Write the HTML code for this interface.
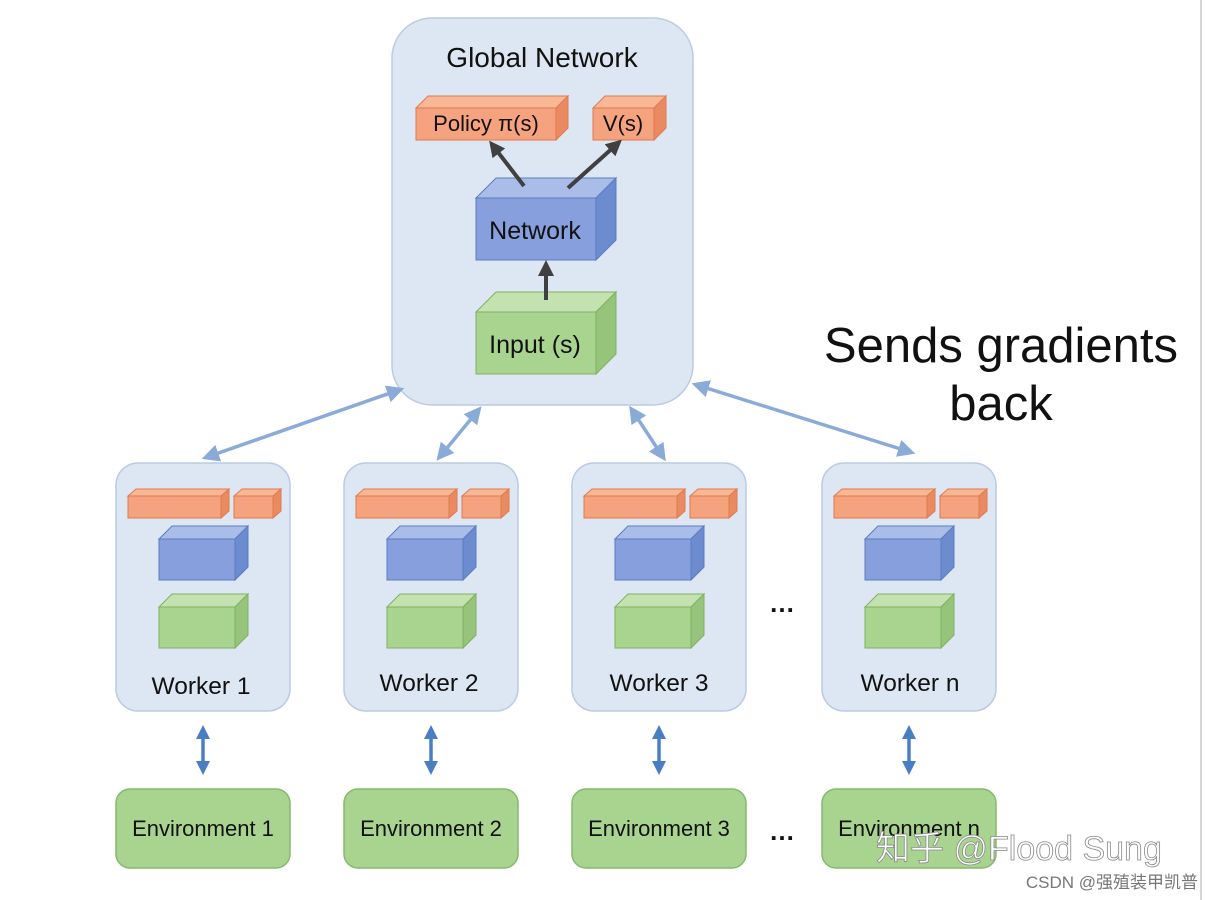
<!DOCTYPE html>
<html><head><meta charset="utf-8"><style>body{margin:0;background:#fff}svg{display:block}</style></head><body>
<svg width="1214" height="900" viewBox="0 0 1214 900" xmlns="http://www.w3.org/2000/svg" font-family="Liberation Sans, sans-serif">
<defs>
<marker id="ab" viewBox="0 0 10 10" refX="5" refY="5" markerWidth="5" markerHeight="5" orient="auto-start-reverse"><path d="M0,0L10,5L0,10z" fill="#8aaad8"/></marker>
<marker id="ad" viewBox="0 0 10 10" refX="5" refY="5" markerWidth="4" markerHeight="4" orient="auto-start-reverse"><path d="M0,0L10,5L0,10z" fill="#4a7ec4"/></marker>
<marker id="ak" viewBox="0 0 10 10" refX="5" refY="5" markerWidth="4" markerHeight="4" orient="auto"><path d="M0,0L10,5L0,10z" fill="#404040"/></marker>
</defs>
<line x1="1201" y1="0" x2="1201" y2="900" stroke="#c8c8c8" stroke-width="1.5"/>
<rect x="392" y="18" width="301" height="387" rx="40" fill="#dde7f3" stroke="#bccbe2" stroke-width="1.5"/>
<text x="542" y="67" font-size="28" text-anchor="middle" fill="#111">Global Network</text>
<path d="M416,108 L428,96 L568,96 L556,108 Z" fill="#f8b896" stroke="#e07a50"/>
<path d="M556,108 L568,96 L568,128 L556,140 Z" fill="#e98a60" stroke="#e07a50"/>
<rect x="416" y="108" width="140" height="32" fill="#f5a27f" stroke="#e07a50"/>
<text x="486" y="131" font-size="22" text-anchor="middle" fill="#111">Policy π(s)</text>
<path d="M593,108 L605,96 L666,96 L654,108 Z" fill="#f8b896" stroke="#e07a50"/>
<path d="M654,108 L666,96 L666,128 L654,140 Z" fill="#e98a60" stroke="#e07a50"/>
<rect x="593" y="108" width="61" height="32" fill="#f5a27f" stroke="#e07a50"/>
<text x="623" y="131" font-size="22" text-anchor="middle" fill="#111">V(s)</text>
<path d="M476,198 L496,178 L616,178 L596,198 Z" fill="#a9bde8" stroke="#5a7cc0"/>
<path d="M596,198 L616,178 L616,240 L596,260 Z" fill="#6d8cd0" stroke="#5a7cc0"/>
<rect x="476" y="198" width="120" height="62" fill="#879fdd" stroke="#5a7cc0"/>
<text x="535" y="239" font-size="25" text-anchor="middle" fill="#111">Network</text>
<path d="M476,312 L496,292 L616,292 L596,312 Z" fill="#c4e2b0" stroke="#7fb060"/>
<path d="M596,312 L616,292 L616,354 L596,374 Z" fill="#96c47a" stroke="#7fb060"/>
<rect x="476" y="312" width="120" height="62" fill="#a9d490" stroke="#7fb060"/>
<text x="535" y="353" font-size="25" text-anchor="middle" fill="#111">Input (s)</text>
<g stroke="#404040" stroke-width="4">
<line x1="524" y1="186" x2="494" y2="147" marker-end="url(#ak)"/>
<line x1="568" y1="188" x2="616" y2="145" marker-end="url(#ak)"/>
<line x1="546" y1="300" x2="546" y2="268" marker-end="url(#ak)"/>
</g>
<g stroke="#8aaad8" stroke-width="3.5" marker-start="url(#ab)" marker-end="url(#ab)">
<line x1="396" y1="391" x2="210" y2="456"/>
<line x1="476" y1="413" x2="442" y2="454"/>
<line x1="634" y1="413" x2="661" y2="454"/>
<line x1="700" y1="386" x2="907" y2="451"/>
</g>
<text x="1001" y="362" font-size="49" text-anchor="middle" fill="#111">Sends gradients</text>
<text x="1001" y="420" font-size="49" text-anchor="middle" fill="#111">back</text>
<g id="w">
<rect x="116" y="463" width="174" height="248" rx="22" fill="#dde7f3" stroke="#bccbe2" stroke-width="1.5"/>
<path d="M128,496 L136,489 L229,489 L221,496 Z" fill="#f8b896" stroke="#e07a50"/>
<path d="M221,496 L229,489 L229,511 L221,518 Z" fill="#e98a60" stroke="#e07a50"/>
<rect x="128" y="496" width="93" height="22" fill="#f5a27f" stroke="#e07a50"/>
<path d="M234,496 L242,489 L281,489 L273,496 Z" fill="#f8b896" stroke="#e07a50"/>
<path d="M273,496 L281,489 L281,511 L273,518 Z" fill="#e98a60" stroke="#e07a50"/>
<rect x="234" y="496" width="39" height="22" fill="#f5a27f" stroke="#e07a50"/>
<path d="M159,539 L172,526 L248,526 L235,539 Z" fill="#a9bde8" stroke="#5a7cc0"/>
<path d="M235,539 L248,526 L248,567 L235,580 Z" fill="#6d8cd0" stroke="#5a7cc0"/>
<rect x="159" y="539" width="76" height="41" fill="#879fdd" stroke="#5a7cc0"/>
<path d="M159,607 L172,594 L248,594 L235,607 Z" fill="#c4e2b0" stroke="#7fb060"/>
<path d="M235,607 L248,594 L248,635 L235,648 Z" fill="#96c47a" stroke="#7fb060"/>
<rect x="159" y="607" width="76" height="41" fill="#a9d490" stroke="#7fb060"/>
<line x1="203" y1="732" x2="203" y2="768" stroke="#4a7ec4" stroke-width="3.5" marker-start="url(#ad)" marker-end="url(#ad)"/>
<rect x="116" y="789" width="174" height="79" rx="14" fill="#a9d490" stroke="#86b86a" stroke-width="1.5"/>
</g>
<use href="#w" x="228"/>
<use href="#w" x="456"/>
<use href="#w" x="706"/>
<g font-size="24.5" text-anchor="middle" fill="#111">
<text x="201" y="694">Worker 1</text>
<text x="429" y="691">Worker 2</text>
<text x="659" y="691">Worker 3</text>
<text x="910" y="691">Worker n</text>
</g>
<g font-size="22" text-anchor="middle" fill="#111">
<text x="203" y="836">Environment 1</text>
<text x="431" y="836">Environment 2</text>
<text x="659" y="836">Environment 3</text>
<text x="909" y="836">Environment n</text>
</g>
<text x="782" y="612" font-size="26" text-anchor="middle" fill="#111" font-weight="bold">…</text>
<text x="782" y="840" font-size="26" text-anchor="middle" fill="#111" font-weight="bold">…</text>
<text x="876" y="860" font-size="34" fill="#fff" stroke="#888" stroke-width="0.8" font-family="Liberation Sans, Noto Sans CJK SC, sans-serif">知乎 @Flood Sung</text>
<text x="1198" y="888" font-size="17" text-anchor="end" fill="#777" font-family="Liberation Sans, Noto Sans CJK SC, sans-serif">CSDN @强殖装甲凯普</text>
</svg>
</body></html>
